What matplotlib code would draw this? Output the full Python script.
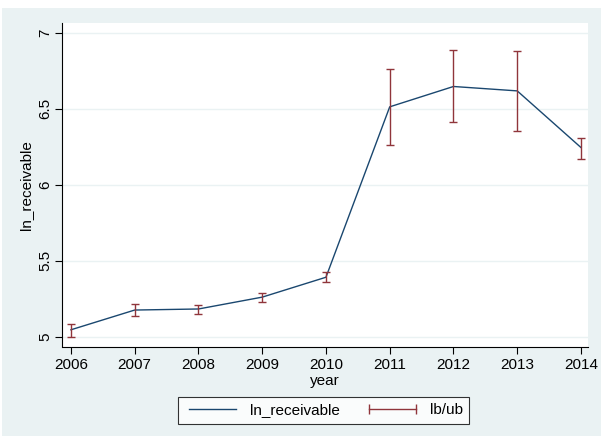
import matplotlib.pyplot as plt
from matplotlib.lines import Line2D
from matplotlib.patches import Rectangle

plt.rcParams["font.family"] = ["Liberation Sans", "DejaVu Sans"]

years = [2006, 2007, 2008, 2009, 2010, 2011, 2012, 2013, 2014]
ln_receivable = [5.045, 5.175, 5.182, 5.260, 5.391, 6.513, 6.647, 6.618, 6.245]
lb = [4.998, 5.138, 5.151, 5.230, 5.362, 6.265, 6.410, 6.357, 6.168]
ub = [5.083, 5.213, 5.210, 5.289, 5.423, 6.760, 6.884, 6.880, 6.307]

BG = "#eaf2f3"
NAVY = "#1a476f"
MAROON = "#90353b"

W, H = 601, 438
fig = plt.figure(figsize=(W / 100, H / 100), dpi=100, facecolor="white")
# light graph region with a thin white margin around it
fig.patches.append(Rectangle((2 / W, 2 / H), 1 - 2 / W, 1 - 10 / H,
                             transform=fig.transFigure, facecolor=BG,
                             edgecolor="none", zorder=-10))

ax = fig.add_axes([62 / W, 1 - 346.5 / H, 526 / W, 323.5 / H])
ax.set_facecolor("white")

ax.plot(years, ln_receivable, color=NAVY, lw=1.0, zorder=3)
err_low = [v - l for v, l in zip(ln_receivable, lb)]
err_high = [u - v for v, u in zip(ln_receivable, ub)]
ax.errorbar(years, ln_receivable, yerr=[err_low, err_high], fmt="none",
            ecolor=MAROON, elinewidth=1.0, capsize=2.6, capthick=1.0, zorder=4)

ax.set_xlim(2005.86, 2014.11)
ax.set_ylim(4.935, 7.065)
ax.set_xticks(years)
ax.set_yticks([5, 5.5, 6, 6.5, 7])
ax.set_yticklabels(["5", "5.5", "6", "6.5", "7"], rotation=90, va="center")
ax.grid(axis="y", color=BG, lw=1.0)
ax.set_axisbelow(True)

for side in ["top", "right"]:
    ax.spines[side].set_visible(False)
for side in ["left", "bottom"]:
    ax.spines[side].set_color("black")
    ax.spines[side].set_linewidth(0.8)
ax.tick_params(direction="out", length=5, width=0.8, labelsize=11, colors="black")
ax.tick_params(axis="y", pad=2)

ax.set_xlabel("year", fontsize=11, labelpad=1)
ax.set_ylabel("ln_receivable", fontsize=11, labelpad=4)

leg = fig.legend(
    [Line2D([], [], color=NAVY, lw=1.0),
     Line2D([], [], color=MAROON, lw=1.0, marker="|", markersize=7, markeredgewidth=1.0)],
    ["ln_receivable", "lb/ub"],
    loc="center", bbox_to_anchor=(323.5 / W, 1 - 410.5 / H), ncol=2, numpoints=2,
    frameon=True, fancybox=False, edgecolor="black", fontsize=11,
    handlelength=3.7, handletextpad=0.6, columnspacing=1.6, borderpad=0.4,
    borderaxespad=0,
)
leg.get_frame().set_linewidth(0.8)

fig.savefig("out.png", dpi=100, facecolor="white")
